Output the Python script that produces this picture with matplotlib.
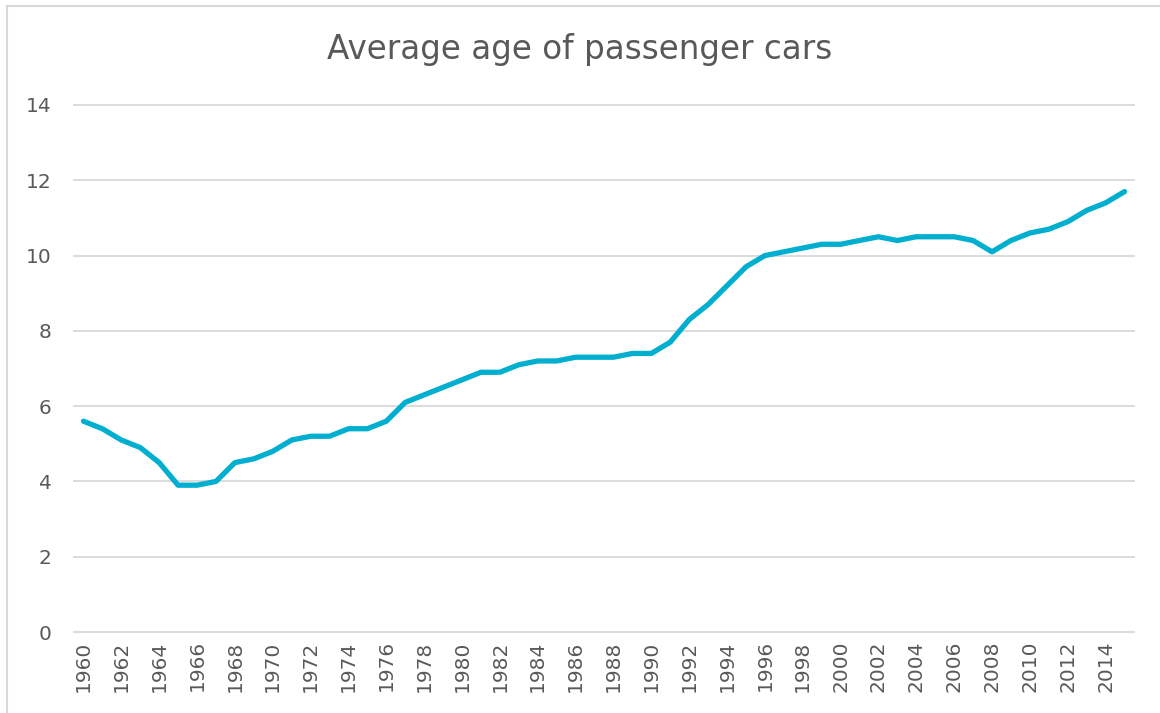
import numpy as np
import matplotlib
matplotlib.use("Agg")
import matplotlib.pyplot as plt
from matplotlib.lines import Line2D

# Average age of passenger cars, by year
years = list(range(1960, 2016))
avg_age = [5.6, 5.4, 5.1, 4.9, 4.5, 3.9, 3.9, 4.0, 4.5, 4.6,
           4.8, 5.1, 5.2, 5.2, 5.4, 5.4, 5.6, 6.1, 6.3, 6.5,
           6.7, 6.9, 6.9, 7.1, 7.2, 7.2, 7.3, 7.3, 7.3, 7.4,
           7.4, 7.7, 8.3, 8.7, 9.2, 9.7, 10.0, 10.1, 10.2, 10.3,
           10.3, 10.4, 10.5, 10.4, 10.5, 10.5, 10.5, 10.4, 10.1, 10.4,
           10.6, 10.7, 10.9, 11.2, 11.4, 11.7]
y_ticks = [0, 2, 4, 6, 8, 10, 12, 14]
x_ticks = years[::2]

text_col = "#595959"
grid_col = "#d9d9d9"

fig = plt.figure(figsize=(11.6, 7.13), dpi=100)
W, H = 1160, 713

# chart border (light gray frame)
fig.add_artist(Line2D([7 / W, 7 / W], [0, 1 - 6 / H], color=grid_col, lw=1.5))
fig.add_artist(Line2D([7 / W, 1], [1 - 6 / H, 1 - 6 / H], color=grid_col, lw=1.5))

ax = fig.add_axes([74 / W, 1 - 632 / H, 1060 / W, 527 / H])
ax.plot(years, avg_age, color="#00aecf", lw=3.8, solid_capstyle="round",
        solid_joinstyle="round", zorder=3)

ax.set_xlim(1959.5, 2015.5)
ax.set_ylim(0, 14)
ax.set_yticks(y_ticks)
ax.set_xticks(x_ticks)
ax.set_xticklabels([str(x) for x in x_ticks], rotation=90)
ax.grid(axis="y", color=grid_col, lw=1.3)
for gl in ax.get_ygridlines():
    gl.set_clip_on(False)
ax.set_axisbelow(True)
for s in ax.spines.values():
    s.set_visible(False)
ax.tick_params(axis="both", length=0, labelsize=14.5, labelcolor=text_col)
ax.tick_params(axis="y", pad=16)
ax.tick_params(axis="x", pad=6)

fig.text(0.5, 1 - 50 / H, "Average age of passenger cars", ha="center",
         va="center", fontsize=23.5, color=text_col)

fig.savefig("out.png", dpi=100)
